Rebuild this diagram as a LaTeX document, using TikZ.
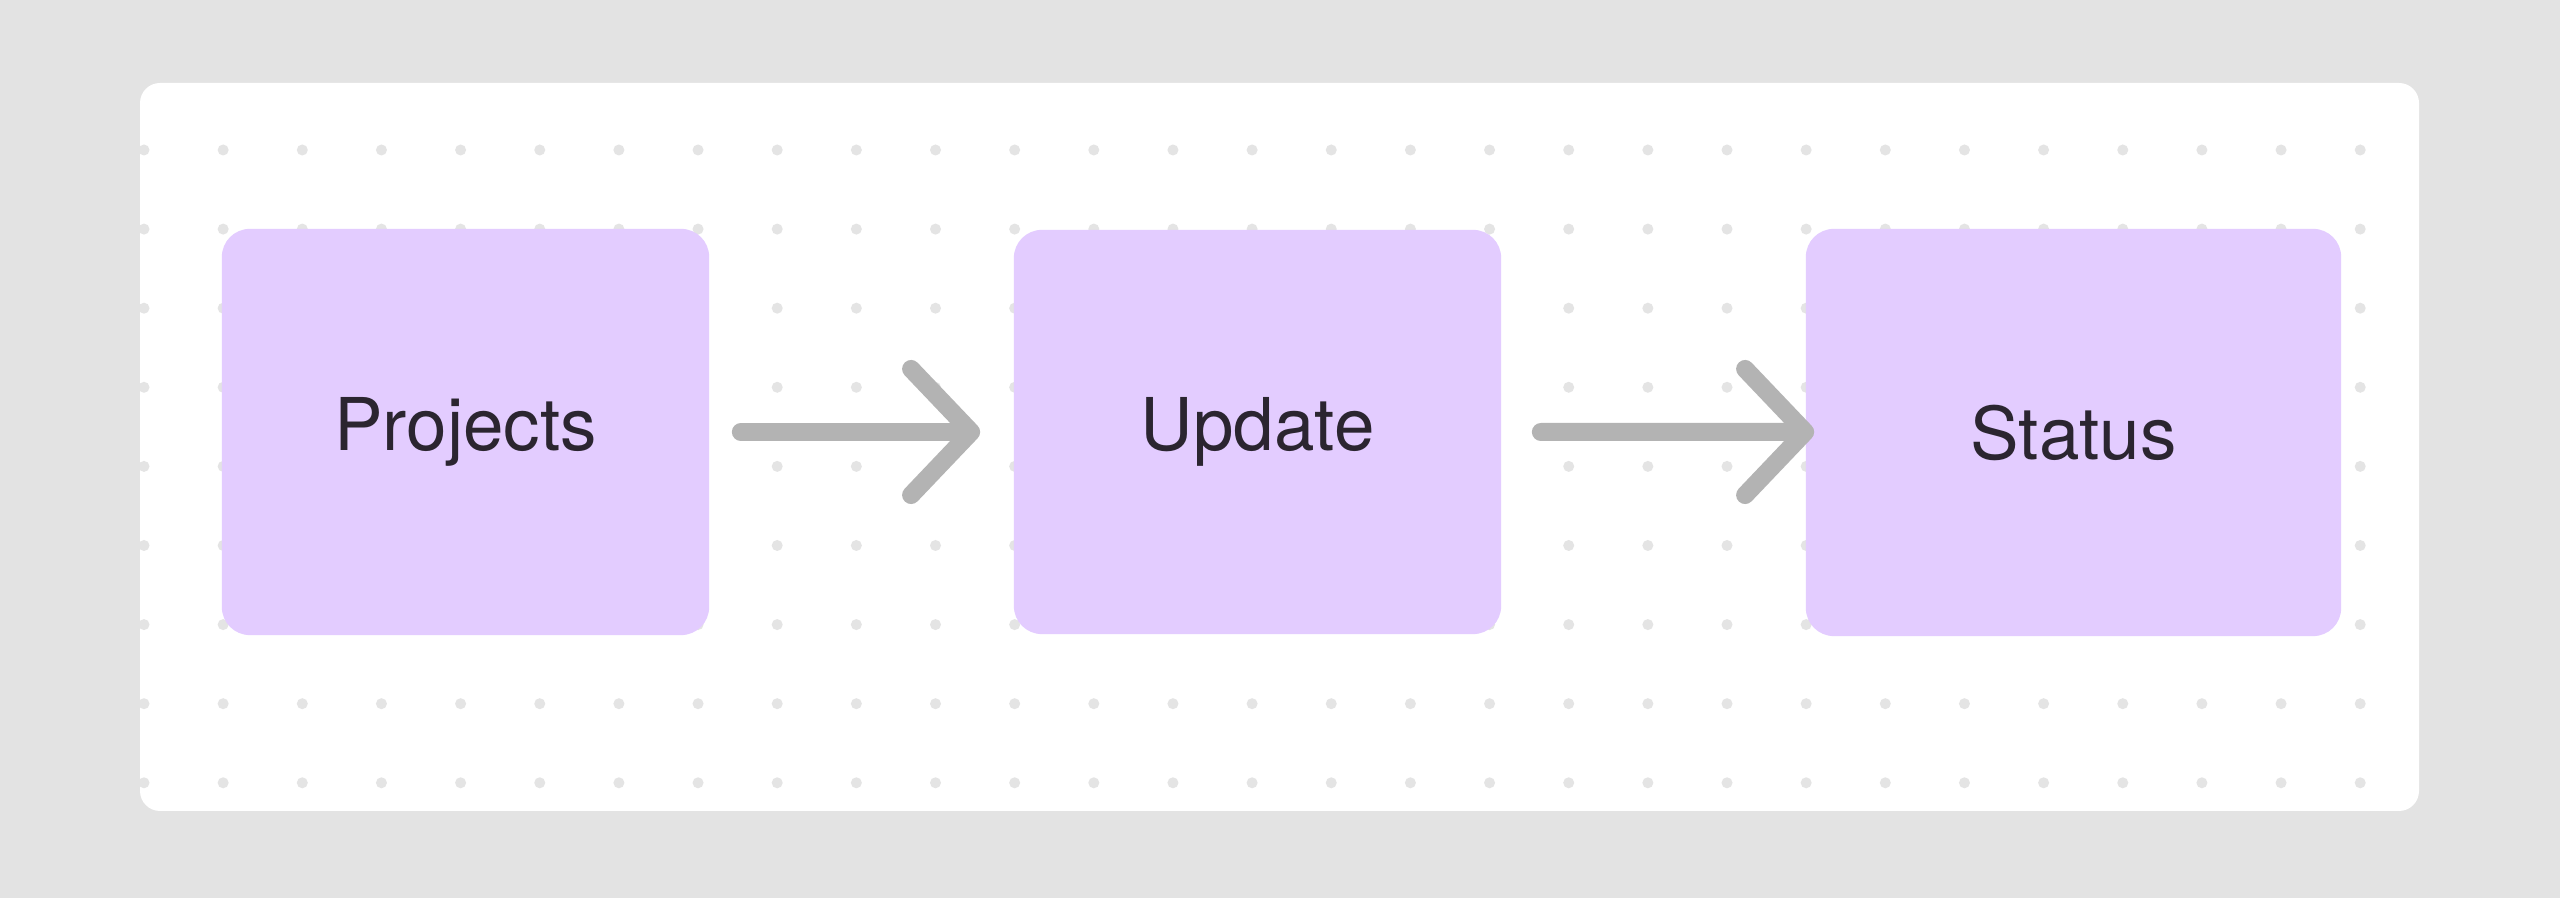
\documentclass[tikz,border=0pt]{standalone}
\usepackage{fontspec}
\setmainfont{TeX Gyre Heros}
\usetikzlibrary{arrows.meta,positioning}
\definecolor{canvasgray}{HTML}{E3E3E3}
\definecolor{dotgray}{HTML}{E4E4E4}
\definecolor{boxviolet}{HTML}{E3CCFF}
\definecolor{arrowgray}{HTML}{B3B3B3}
\definecolor{textdark}{HTML}{2B2530}
\tikzset{flow node/.style={rectangle,rounded corners=0.28cm,fill=boxviolet,draw=none,inner sep=0pt,
                          minimum width=4.87cm,minimum height=4.06cm,text=textdark,
                          font=\fontsize{20.7pt}{24pt}\selectfont},
         flow arrow/.style={draw=arrowgray,line width=0.18cm,line cap=round,
                            -{Straight Barb[length=0.6cm,width=1.26cm,round]}},
         grid dot/.style={fill=dotgray,draw=none}
}

\begin{document}
\begin{tikzpicture}[x=0.01cm,y=-0.01cm]
\useasboundingbox (0,0) rectangle (2560,898);
\fill[canvasgray] (0,0) rectangle (2560,898);
\fill[white,rounded corners=0.2cm] (140,83) rectangle (2419,811);
% dotted canvas
\begin{scope}
  \clip[rounded corners=0.2cm] (140,83) rectangle (2419,811);
  \foreach \i in {0,...,28}{
    \foreach \j in {0,...,8}{
      \fill[grid dot] (144+79.15*\i,150+79.1*\j) circle (5.5);
    }
  }
\end{scope}

\node[flow node] (projects) at (465.5,432) {Projects};
\node[flow node,minimum height=4.04cm] (update) at (1257.5,432) {Update};
\node[flow node,minimum width=5.35cm,minimum height=4.07cm] (status) at (2073.5,432.5) {Status};

\draw[flow arrow] ([xshift=0.31cm]projects.east) -- ([xshift=-0.33cm]update.west);
\draw[flow arrow] ([xshift=0.39cm]update.east) -- ([xshift=0.09cm,yshift=0.005cm]status.west);

\end{tikzpicture}
\end{document}
